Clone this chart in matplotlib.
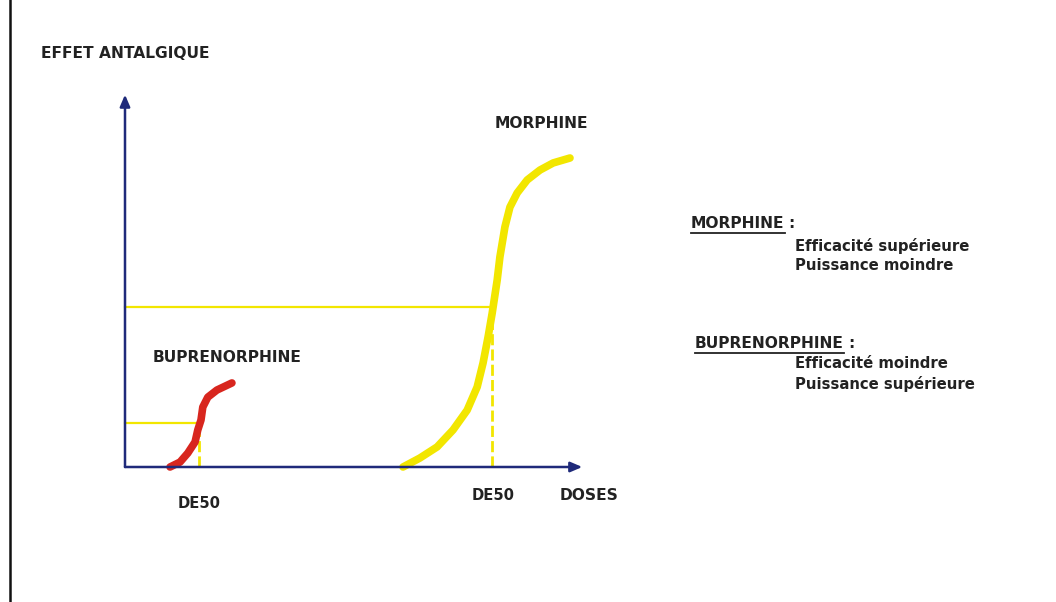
import matplotlib.pyplot as plt
from matplotlib.lines import Line2D

# curves (dose units, effect %)
morph_dose = [61.1, 64.8, 68.6, 72.1, 75.2, 77.4, 78.7, 79.8, 80.7, 81.8, 82.4, 83.5,
              84.6, 86.2, 88.4, 91.2, 94.1, 97.8]
morph_effect = [0, 2.9, 6.5, 12.0, 18.4, 25.9, 33.7, 42.1, 49.8, 60.5, 68.0, 77.7,
                84.1, 88.7, 92.9, 96.1, 98.4, 100]
bup_dose = [9.9, 12.1, 13.8, 15.4, 16.0, 16.7, 17.1, 18.2, 20.2, 23.5]
bup_effect = [0, 1.6, 4.5, 8.1, 12.0, 15.2, 19.4, 22.6, 24.9, 27.2]

morph_de50 = 80.7
morph_half = 51.8
bup_de50 = 16.3
bup_half = 14.2

navy = '#1f2a7a'
yellow = '#f2e600'
red = '#d8261e'
txt = '#222222'

plt.rcParams['font.family'] = ['DejaVu Sans']

fig = plt.figure(figsize=(10.56, 6.02), dpi=100)
ax = fig.add_axes([0, 0, 1, 1])
sx, sy = 4.55, 3.09
ax.set_xlim(-125 / sx, (1056 - 125) / sx)
ax.set_ylim((467 - 602) / sy, 467 / sy)
ax.axis('off')

# left border line
fig.add_artist(Line2D([10 / 1056, 10 / 1056], [0, 1], color='#111111', lw=1.8))

# helper lines
ax.plot([0, morph_de50], [morph_half, morph_half], color=yellow, lw=1.6, zorder=2)
ax.plot([morph_de50, morph_de50], [0, morph_half], color=yellow, lw=2, ls=(0, (4, 1.5)), zorder=2)
ax.plot([0, bup_de50], [bup_half, bup_half], color=yellow, lw=1.6, zorder=2)
ax.plot([bup_de50, bup_de50], [0, bup_half], color=yellow, lw=2, ls=(0, (4, 1.5)), zorder=2)

# curves
ax.plot(morph_dose, morph_effect, color=yellow, lw=5.5, solid_capstyle='round',
        solid_joinstyle='round', zorder=3)
ax.plot(bup_dose, bup_effect, color=red, lw=5.5, solid_capstyle='round',
        solid_joinstyle='round', zorder=3)

# axes with arrows
arrow = dict(arrowstyle='-|>,head_length=0.7,head_width=0.3', color=navy, lw=1.8,
             shrinkA=0, shrinkB=0)
ax.annotate('', xy=(100.5, 0), xytext=(0, 0), arrowprops=arrow, zorder=4)
ax.annotate('', xy=(0, 120.5), xytext=(0, 0), arrowprops=arrow, zorder=4)

bold = dict(fontsize=11.2, fontweight='bold', color=txt)
small = dict(fontsize=10.7, fontweight='bold', color=txt)


def at(px, py, s, **kw):
    return fig.text(px / 1056, 1 - py / 602, s, va='center', ha='left', **kw)


at(41, 53, 'EFFET ANTALGIQUE', **bold)
at(495, 124, 'MORPHINE', **bold)
at(153, 357, 'BUPRENORPHINE', **bold)
at(178, 503, 'DE50', fontsize=10.6, fontweight='bold', color=txt)
at(472, 495, 'DE50', fontsize=10.6, fontweight='bold', color=txt)
at(560, 495, 'DOSES', **bold)

t1 = at(691, 224, 'MORPHINE', **bold)
at(795, 246, 'Efficacité supérieure', **small)
at(795, 266, 'Puissance moindre', **small)
t2 = at(695, 344, 'BUPRENORPHINE', **bold)
at(795, 364, 'Efficacité moindre', **small)
at(795, 384, 'Puissance supérieure', **small)

# underline the two headings and add the colon after them
fig.canvas.draw()
r = fig.canvas.get_renderer()
for t, py in ((t1, 224), (t2, 344)):
    bb = t.get_window_extent(r)
    y = bb.y0 - 1
    fig.add_artist(Line2D([bb.x0 / 1056, bb.x1 / 1056], [y / 602, y / 602], color=txt, lw=1.3))
    at(bb.x1 + 4, py, ':', **bold)

fig.savefig('out.png', dpi=100, facecolor='white')
